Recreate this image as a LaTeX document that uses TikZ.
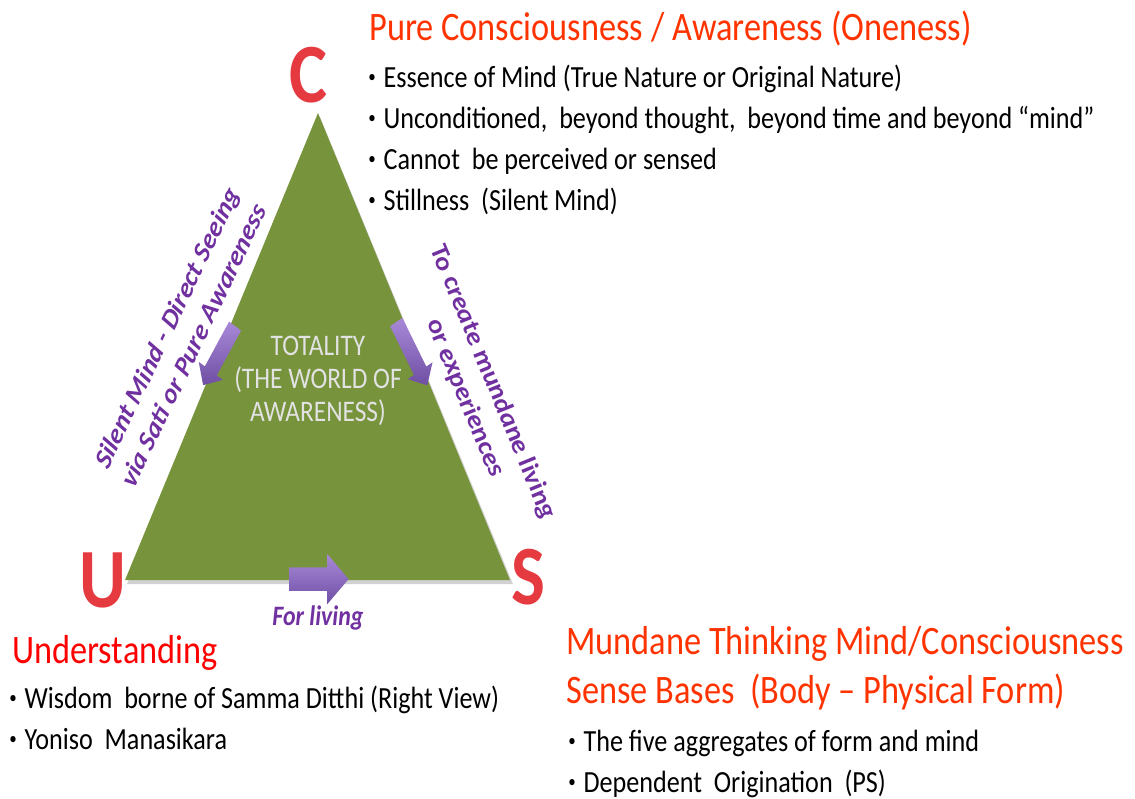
\documentclass[tikz,border=0pt]{standalone}
\usepackage{fontspec}
\setmainfont{Carlito}
\usetikzlibrary{shapes.arrows}

\definecolor{trigreen}{HTML}{77933C}
\definecolor{headred}{HTML}{FF3300}
\definecolor{undred}{HTML}{FF0000}
\definecolor{sidepurple}{HTML}{7030A0}
\definecolor{arrowlight}{HTML}{A889D8}
\definecolor{arrowdark}{HTML}{6F4FA3}
\definecolor{letterred}{HTML}{E53A40}
\definecolor{totalgray}{HTML}{E2E2E2}

% small list bullet
\newcommand\bul{\raisebox{0.32ex}{\fontsize{10}{10}\selectfont\textbullet}\hspace{0.3em}}

\begin{document}
\begin{tikzpicture}[x=0.023529cm, y=-0.02cm, xscale=0.85,
  every node/.style={transform shape, inner sep=0pt},
  txt/.style={anchor=base west, font=\fontsize{17.5}{21}\selectfont},
  head/.style={anchor=base west, text=headred, font=\fontsize{23}{27}\selectfont},
  vtx/.style={text=letterred, font=\fontsize{48}{48}\selectfont\bfseries},
  side/.style={text=sidepurple, align=center, font=\fontsize{16.5}{20.5}\selectfont\bfseries\itshape},
  blockarrow/.style={single arrow, draw=none, top color=arrowlight, bottom color=arrowdark,
    minimum width=0.66cm, inner sep=0.16cm, single arrow head extend=0.17cm,
    single arrow head indent=0pt}]
  \useasboundingbox (0,0) rectangle (1135,798);

  % the triangle
  \coordinate (top) at (318,113);
  \coordinate (bl) at (125,580);
  \coordinate (br) at (510,580);
  \fill[black!18] (320,117) -- (127,584) -- (513,584) -- cycle;
  \fill[trigreen] (top) -- (bl) -- (br) -- cycle;
  \node[text=totalgray, align=center, font=\fontsize{17}{18.7}\selectfont] (total) at (318,381)
    {TOTALITY\\(THE WORLD OF\\AWARENESS)};

  % corner letters
  \node[vtx] (c) at (308,75) {C};
  \node[vtx] (u) at (103,580) {U};
  \node[vtx] (s) at (528,577) {S};

  % arrows along the sides
  \node[blockarrow, minimum height=1.4cm, rotate=-122.5] (al) at (221,352) {};
  \node[blockarrow, minimum height=1.46cm, rotate=-60] (ar) at (410,350) {};
  \node[blockarrow, minimum height=1.39cm, minimum width=1.0cm, inner sep=0.23cm,
    single arrow head extend=0.27cm] (ab) at (314,579) {};

  \node[side, rotate=60.7] (lside) at (180,336)
    {Silent Mind - Direct Seeing\\via Sati or Pure Awareness};
  \node[side, rotate=-64] (rside) at (479,390)
    {To create mundane living\\or experiences};
  \node[side, font=\fontsize{16}{18}\selectfont\bfseries\itshape] (bside) at (318,618) {For living};

  % C
  \node[head] (pure) at (369,40) {Pure Consciousness / Awareness (Oneness)};
  \node[txt] (c1) at (368,87) {\bul Essence of Mind (True Nature or Original Nature)};
  \node[txt] (c2) at (368,128) {\bul Unconditioned,~ beyond thought,~ beyond time and beyond “mind”};
  \node[txt] (c3) at (368,169) {\bul Cannot~ be perceived or sensed};
  \node[txt] (c4) at (368,210) {\bul Stillness~ (Silent Mind)};

  % U
  \node[head, text=undred] (und) at (12,663) {Understanding};
  \node[txt] (u1) at (9,708) {\bul Wisdom~ borne of Samma Ditthi (Right View)};
  \node[txt] (u2) at (9,749) {\bul Yoniso~ Manasikara};

  % S
  \node[head] (mund) at (566,654) {Mundane Thinking Mind/Consciousness};
  \node[head] (sense) at (566,703) {Sense Bases~ (Body – Physical Form)};
  \node[txt] (s1) at (568,751) {\bul The five aggregates of form and mind};
  \node[txt] (s2) at (568,792) {\bul Dependent~ Origination~ (PS)};
\end{tikzpicture}
\end{document}
